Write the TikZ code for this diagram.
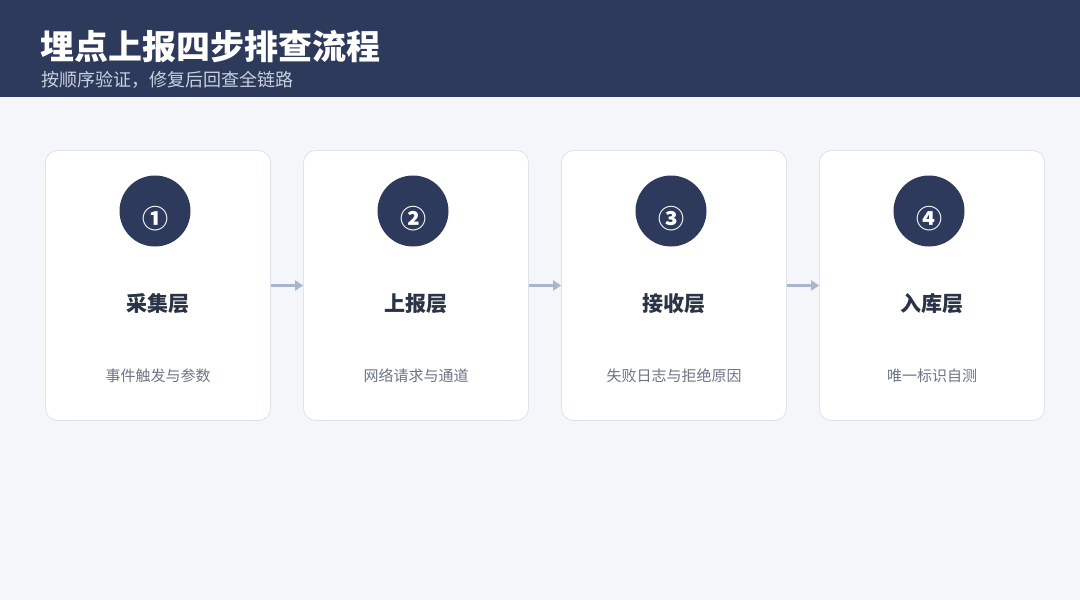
\documentclass[tikz,border=0pt]{standalone}
\usepackage{fontspec}
\setmainfont{Noto Sans CJK SC}
\usetikzlibrary{arrows.meta}
\definecolor{navy}{HTML}{2D3A5C}
\definecolor{bgc}{HTML}{F5F6FA}
\definecolor{cardline}{HTML}{DDE2EC}
\definecolor{arrowc}{HTML}{A9B6CF}
\definecolor{titlec}{HTML}{2B3446}
\definecolor{subc}{HTML}{6B7585}
\definecolor{hsub}{HTML}{C9D0DE}
\tikzset{
  card/.style={draw=cardline, line width=0.8pt, fill=white, rounded corners=12pt, minimum width=225pt, minimum height=270pt, inner sep=0pt},
  badge/.style={circle, fill=navy, minimum size=71pt, inner sep=0pt},
  num/.style={text=white, font=\bfseries\fontsize{26}{26}\selectfont, inner sep=0pt},
  ctitle/.style={text=titlec, font=\bfseries\fontsize{21}{21}\selectfont, inner sep=0pt},
  csub/.style={text=subc, font=\fontsize{15}{15}\selectfont, inner sep=0pt},
  flow/.style={draw=arrowc, line width=2.5pt, -{Triangle[length=8pt,width=10pt]}}
}
\begin{document}
\begin{tikzpicture}[x=1pt,y=-1pt]
\fill[bgc] (0,0) rectangle (1080,600);
\useasboundingbox (0,0) rectangle (1080,600);
\fill[navy] (0,0) rectangle (1080,97);
\node[anchor=west, inner sep=0pt, text=white, font=\bfseries\fontsize{34}{34}\selectfont] (title) at (40,46.5) {埋点上报四步排查流程};
\node[anchor=west, inner sep=0pt, text=hsub, font=\fontsize{18}{18}\selectfont] (subtitle) at (41,80) {按顺序验证，修复后回查全链路};
\foreach \i/\n/\t/\s in {1/①/采集层/事件触发与参数, 2/②/上报层/网络请求与通道, 3/③/接收层/失败日志与拒绝原因, 4/④/入库层/唯一标识自测}{
  \pgfmathsetmacro{\cx}{158+258*(\i-1)}
  \node[card] (card\i) at (\cx,285.5) {};
  \node[badge] (badge\i) at (\cx-3,211) {};
  \node[num] (num\i) at (\cx-3,219) {\n};
  \node[ctitle] (ct\i) at (\cx-0.5,303.5) {\t};
  \node[csub] (cs\i) at (\cx,375.5) {\s};
}
\draw[flow] (card1.east) -- (card2.west);
\draw[flow] (card2.east) -- (card3.west);
\draw[flow] (card3.east) -- (card4.west);
\end{tikzpicture}
\end{document}
